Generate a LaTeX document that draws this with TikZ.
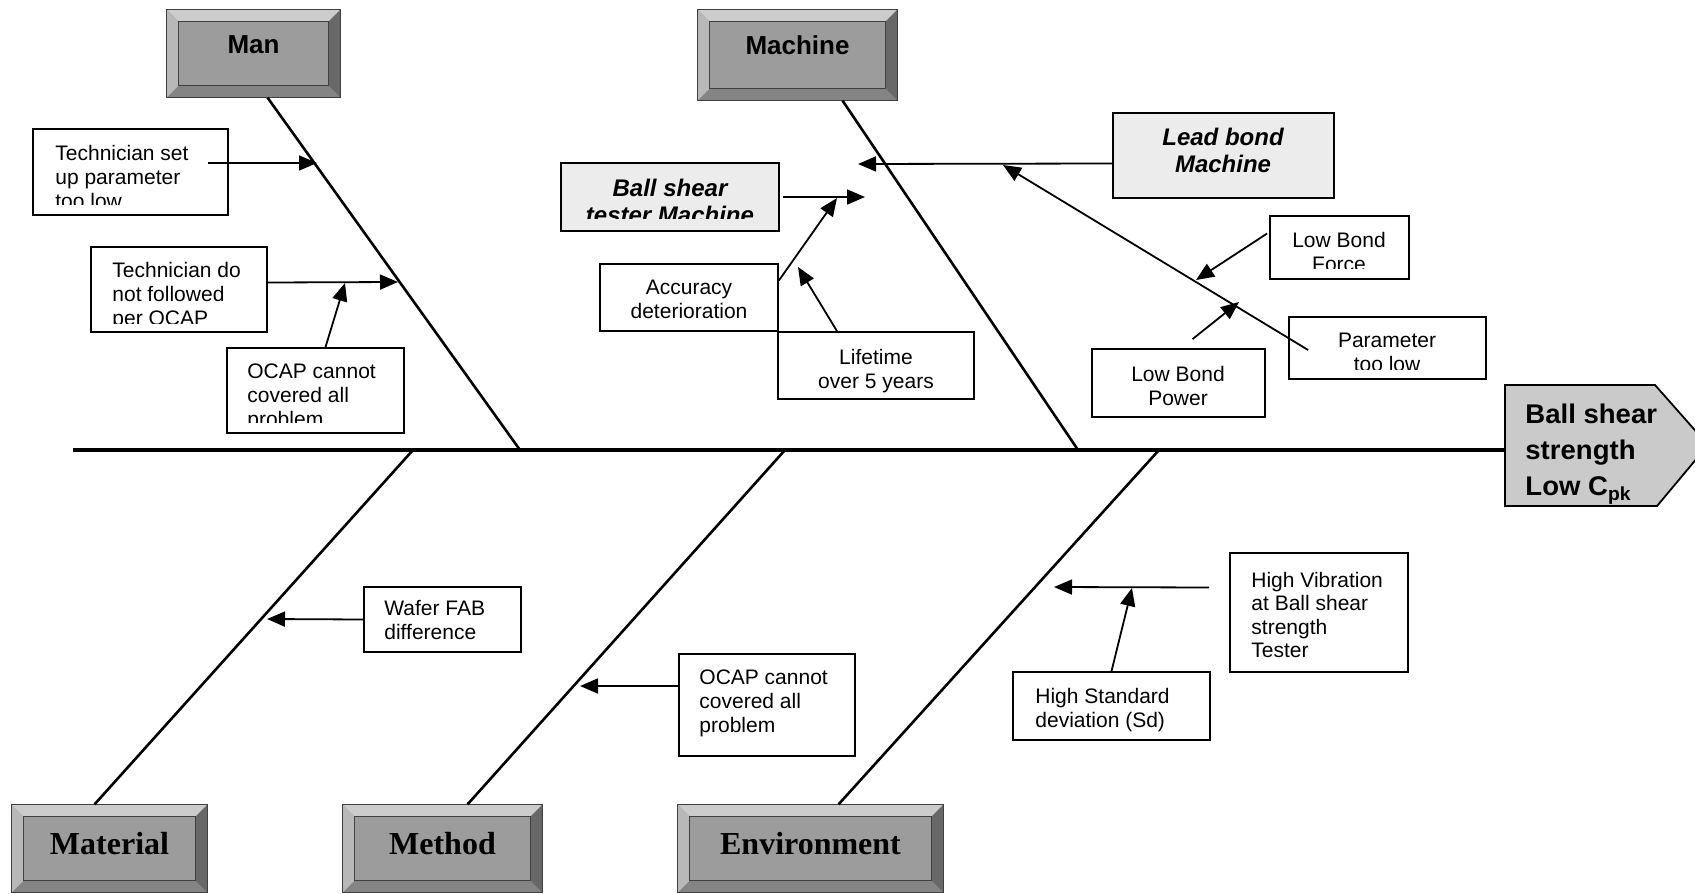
\documentclass[tikz,border=0pt]{standalone}
\usepackage{fontspec}
\setmainfont{Liberation Sans}
\newfontfamily\labelserif{Liberation Serif}
\newfontfamily\headfont[FakeStretch=1.02]{Liberation Sans}
\usetikzlibrary{arrows.meta,calc,fit}

\definecolor{bevface}{RGB}{156,156,156}
\definecolor{bevlight}{RGB}{204,204,204}
\definecolor{bevmid}{RGB}{184,184,184}
\definecolor{bevlow}{RGB}{132,132,132}
\definecolor{bevdark}{RGB}{104,104,104}
\definecolor{notefill}{RGB}{236,236,236}
\definecolor{headfill}{RGB}{202,202,202}

\newcommand{\saysize}{\fontsize{10.5}{12}\selectfont}

\begin{document}
\begin{tikzpicture}[x=0.5pt,y=0.5pt,yscale=-1,xscale=1,
    spine/.style={line width=1.6pt},
    bone/.style={line width=1.3pt},
    twig/.style={line width=0.9pt,-{Triangle[length=9pt,width=7.5pt]}},
    cause/.style={draw,line width=0.9pt,inner sep=0pt},
    note/.style={cause,fill=notefill},
    say/.style={font=\saysize,inner sep=0pt,align=left,anchor=north west},
    saymid/.style={say,align=center,anchor=north},
    sayit/.style={saymid,font=\fontsize{12}{13.5}\selectfont\bfseries\itshape},
    bevel/.style={draw=black!75,line width=0.6pt,fill=bevface,inner sep=0pt,
      font=\fontsize{13}{15}\selectfont\bfseries},
    bevel serif/.style={bevel,font=\labelserif\fontsize{16}{18}\selectfont\bfseries},
    headtext/.style={inner sep=0pt,align=left,anchor=north west,
      font=\headfont\bfseries\fontsize{13.5}{18}\selectfont}]
\useasboundingbox (0,0) rectangle (1695,893);
\clip (0,0) rectangle (1695,893);

%Shape: Bevel boxes (categories)
\node[bevel,fit={(167,10)(340,97)}] (man) {Man};
\node[bevel,fit={(698,10)(897,100)}] (machine) {Machine};
\node[bevel serif,fit={(12,805)(207,892)}] (material) {\raisebox{-6pt}{Material}};
\node[bevel serif,fit={(343,805)(542,892)}] (method) {\raisebox{-6pt}{Method}};
\node[bevel serif,fit={(678,805)(943,892)}] (environ) {\raisebox{-6pt}{Environment}};
\foreach \hd in {man,machine,material,method,environ}{
  \fill[bevlight] (\hd.north west) -- (\hd.north east) -- ($(\hd.north east)+(-12,12)$) -- ($(\hd.north west)+(12,12)$) -- cycle;
  \fill[bevlow] (\hd.south west) -- (\hd.south east) -- ($(\hd.south east)+(-12,-12)$) -- ($(\hd.south west)+(12,-12)$) -- cycle;
  \fill[bevmid] (\hd.north west) -- ($(\hd.north west)+(12,12)$) -- ($(\hd.south west)+(12,-12)$) -- (\hd.south west) -- cycle;
  \fill[bevdark] (\hd.north east) -- ($(\hd.north east)+(-12,12)$) -- ($(\hd.south east)+(-12,-12)$) -- (\hd.south east) -- cycle;
  \draw[black!75,line width=0.6pt] (\hd.north west) rectangle (\hd.south east);
  \draw[black!75,line width=0.6pt] ($(\hd.north west)+(12,12)$) rectangle ($(\hd.south east)+(-12,-12)$);
}

%Shape: Head (effect)
\draw[line width=0.9pt,fill=headfill] (1505,385) -- (1655,385) -- (1708,445) -- (1657,506) -- (1505,506) -- cycle;
% Text Node
\node[headtext] (effect) at (1525,404) {Ball shear\\strength\\Low C\textsubscript{pk}};

%Straight Lines: spine and bones
\coordinate (tail) at (73,450);
\coordinate (head) at (1505,450);
\coordinate (jMan) at (520,450);
\coordinate (jMach) at (1078,450);
\coordinate (jMat) at (413,450);
\coordinate (jMeth) at (785,450);
\coordinate (jEnv) at (1159,450);
\draw[spine] (tail) -- (head);
\draw[bone] ($(man.south)+(14,0)$) -- (jMan);
\draw[bone] ($(machine.south)+(45,0)$) -- (jMach);
\draw[bone] (jMat) -- ($(material.north)+(-15,0)$);
\draw[bone] (jMeth) -- ($(method.north)+(25,0)$);
\draw[bone] (jEnv) -- ($(environ.north)+(28,0)$);

%Shape: Rectangle (Man)
\node[cause,fit={(33,129)(228,215)}] (t1) {};
\begin{scope}
  \clip (t1.north west) rectangle ($(t1.south east)+(0,-11)$);
  \node[say] (t1-text) at (55,145) {Technician set\\up parameter\\too low};
\end{scope}
%Shape: Rectangle
\node[cause,fit={(91,247)(267,332)}] (t2) {};
\begin{scope}
  \clip (t2.north west) rectangle ($(t2.south east)+(0,-9)$);
  \node[say] (t2-text) at (112,262) {Technician do\\not followed\\per OCAP};
\end{scope}
%Shape: Rectangle
\node[cause,fit={(227,348)(404,433)}] (o1) {};
\begin{scope}
  \clip (o1.north west) rectangle ($(o1.south east)+(0,-11)$);
  \node[say] (o1-text) at (247,363) {OCAP cannot\\covered all\\problem};
\end{scope}

%Shape: Rectangle (Machine)
\node[note,fit={(561,163)(779,231)}] (bs) {};
\begin{scope}
  \clip (bs.north west) rectangle ($(bs.south east)+(0,-13)$);
  \node[sayit] (bs-text) at (670,179) {Ball shear\\tester Machine};
\end{scope}
\node[cause,fit={(600,264)(778,331)}] (acc) {};
\node[saymid] (acc-text) at (689,280) {Accuracy\\deterioration};
\node[cause,fit={(778,332)(974,399)}] (life) {};
\node[saymid] (life-text) at (876,349) {Lifetime\\over 5 years};
\node[note,fit={(1113,113)(1334,198)}] (lead) {};
\node[sayit] (lead-text) at (1223,128) {Lead bond\\Machine};
\node[cause,fit={(1270,216)(1409,279)}] (lbf) {};
\begin{scope}
  \clip (lbf.north west) rectangle ($(lbf.south east)+(0,-11)$);
  \node[saymid] (lbf-text) at (1339,232) {Low Bond\\Force};
\end{scope}
\node[cause,fit={(1092,349)(1265,417)}] (lbp) {};
\node[saymid] (lbp-text) at (1178,366) {Low Bond\\Power};
\node[cause,fit={(1289,317)(1486,379)}] (par) {};
\begin{scope}
  \clip (par.north west) rectangle ($(par.south east)+(0,-10)$);
  \node[saymid] (par-text) at (1387,333) {Parameter\\too low};
\end{scope}

%Shape: Rectangle (Material, Method, Environment)
\node[cause,fit={(364,587)(521,652)}] (wafer) {};
\node[say] (wafer-text) at (384,600) {Wafer FAB\\difference};
\node[cause,fit={(679,654)(855,756)}] (o2) {};
\node[say] (o2-text) at (699,669) {OCAP cannot\\covered all\\problem};
\node[cause,fit={(1230,553)(1408,672)}] (hv) {};
\node[say,font=\fontsize{10.5}{11.6}\selectfont] (hv-text) at (1251,572) {High Vibration\\at Ball shear\\strength\\Tester};
\node[cause,fit={(1013,672)(1210,740)}] (hsd) {};
\node[say] (hsd-text) at (1035,688) {High Standard\\deviation (Sd)};

%Straight Lines: arrows
\coordinate (tipT1) at (317,163);
\coordinate (tipT2) at (398,282);
\coordinate (tipO1) at (345,283);
\coordinate (tipBS) at (865,197);
\coordinate (tipAcc) at (837,198);
\coordinate (tipLife) at (798,267);
\coordinate (tipLead) at (858,164);
\coordinate (tipPar) at (1003,165);
\coordinate (tipLBF) at (1196,280);
\coordinate (tipLBP) at (1239,302);
\coordinate (tipWafer) at (267,619);
\coordinate (tipO2) at (580,686);
\coordinate (tipHV) at (1054,587);
\coordinate (tipHSD) at (1132,588);
\draw[twig] ($(t1.east)+(-21,-9)$) -- (tipT1);
\draw[twig] ($(t2.east)+(0,-7)$) -- (tipT2);
\draw[twig] ($(o1.north)+(10,0)$) -- (tipO1);
\draw[twig] ($(bs.east)+(3,0)$) -- (tipBS);
\draw[twig] ($(acc.east)+(0,-17)$) -- (tipAcc);
\draw[twig] ($(life.north)+(-39,0)$) -- (tipLife);
\draw[twig] ($(lead.west)+(0,8)$) -- (tipLead);
\draw[twig] ($(par.west)+(20,2)$) -- (tipPar);
\draw[twig] ($(lbf.west)+(-2,-14)$) -- (tipLBF);
\draw[twig] ($(lbp.north)+(14,-9)$) -- (tipLBP);
\draw[twig] (wafer.west) -- (tipWafer);
\draw[twig] ($(o2.west)+(0,-19)$) -- (tipO2);
\draw[twig] ($(hv.west)+(-20,-25)$) -- (tipHV);
\draw[twig] (hsd.north) -- (tipHSD);
\end{tikzpicture}
\end{document}
